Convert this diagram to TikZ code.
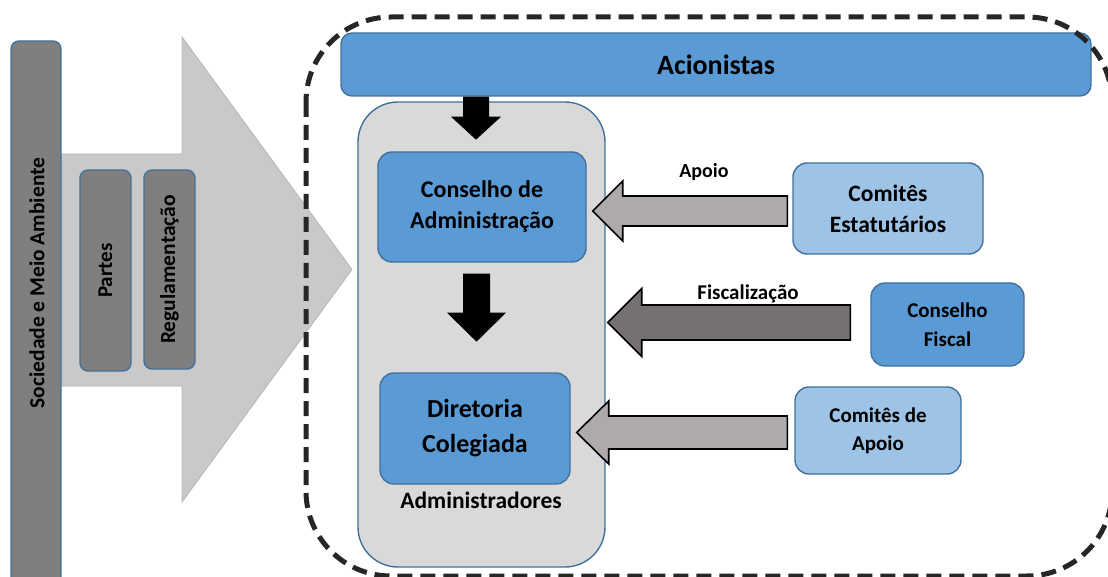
\documentclass[tikz,border=0pt]{standalone}
\usepackage{fontspec}
\setmainfont{Carlito}
\usetikzlibrary{calc}
\definecolor{bluefill}{HTML}{5B9BD5}
\definecolor{blueline}{HTML}{41719C}
\definecolor{lightblue}{HTML}{9DC3E6}
\definecolor{bargrey}{HTML}{7F7F7F}
\definecolor{bigarrow}{HTML}{C9C9C9}
\definecolor{bigarrowline}{HTML}{B5B5B5}
\definecolor{contgrey}{HTML}{D9D9D9}
\definecolor{argrey}{HTML}{AEAAAA}
\definecolor{ardark}{HTML}{757171}
\definecolor{dashcol}{HTML}{262626}
\begin{document}
\begin{tikzpicture}[x=1pt,y=-1pt,
  box/.style={draw=blueline, line width=1.4pt, rounded corners=#1, inner sep=0pt, align=center, font=\bfseries},
  box/.default=14pt,
  greybox/.style={box=8pt, fill=bargrey},
  bluebox/.style={box=14pt, fill=bluefill},
  lbox/.style={box=14pt, fill=lightblue},
  blockarr/.style={draw=black, line width=1.6pt, line join=miter},
  lab/.style={font=\bfseries, inner sep=0pt}
]
\useasboundingbox (0,0) rectangle (1108,577);
\clip (0,0) rectangle (1108,577);

% big background arrow
\fill[bigarrow, draw=bigarrowline, line width=0.8pt] (50,154) -- (182,154) -- (182,37) -- (352,269.5) -- (182,502) -- (182,386) -- (50,386) -- cycle;

% left bar
\node[greybox, minimum width=50pt, minimum height=549pt] (socbar) at (36,315.5) {};
\node[lab, rotate=90, font=\bfseries\fontsize{21.5}{24}\selectfont] (soctext) at (37,283) {Sociedade e Meio Ambiente};

\node[greybox, rotate=90, minimum width=201pt, minimum height=51pt, font=\bfseries\fontsize{21}{24}\selectfont] (partes) at (105.5,270.5) {Partes};
\node[greybox, rotate=90, minimum width=199pt, minimum height=51pt, font=\bfseries\fontsize{21.5}{24}\selectfont] (reg) at (169.5,269.5) {Regulamentação};

% container
\node[box=40pt, fill=contgrey, minimum width=247pt, minimum height=465pt] (adm) at (481.5,334.5) {};

% shareholders
\node[box=11pt, fill=bluefill, minimum width=750pt, minimum height=63pt, font=\bfseries\fontsize{28}{32}\selectfont] (acio) at (716,64.5) {Acionistas};

% inner boxes
\node[bluebox, minimum width=208pt, minimum height=110pt, font=\bfseries\fontsize{24}{31}\selectfont] (ca) at (482,207) {Conselho de\\Administração};
\node[bluebox, minimum width=190pt, minimum height=111pt, font=\bfseries\fontsize{26}{35}\selectfont] (dc) at (475,428.5) {Diretoria\\Colegiada};
\node[lab, anchor=base, font=\bfseries\fontsize{23.5}{28}\selectfont] (admlab) at (481,508) {Administradores};

% right boxes
\node[lbox, minimum width=190pt, minimum height=91pt, font=\bfseries\fontsize{23.5}{31}\selectfont] (cest) at (888,208.5) {Comitês\\Estatutários};
\node[bluebox, minimum width=153pt, minimum height=83pt, font=\bfseries\fontsize{21}{29}\selectfont] (cf) at (947.5,324.5) {Conselho\\Fiscal};
\node[lbox, minimum width=166pt, minimum height=87pt, font=\bfseries\fontsize{21}{28}\selectfont] (cap) at (878,430.5) {Comitês de\\Apoio};

% black arrows
\coordinate (k1) at ($(acio.south -| ca.north)+(-6,0)$);
\fill[black] ($(k1)+(-13,0)$) -- ($(k1)+(13,0)$) -- ($(k1)+(13,20)$) -- ($(k1)+(25,20)$) -- ($(k1)+(0,43)$) -- ($(k1)+(-25,20)$) -- ($(k1)+(-13,20)$) -- cycle;
\coordinate (k2) at ($(ca.south)+(-5.5,11)$);
\fill[black] ($(k2)+(-13.5,0)$) -- ($(k2)+(13.5,0)$) -- ($(k2)+(13.5,39)$) -- ($(k2)+(29.5,39)$) -- ($(k2)+(0,68)$) -- ($(k2)+(-29.5,39)$) -- ($(k2)+(-13.5,39)$) -- cycle;

% block arrows
\coordinate (t1) at ($(ca.east)+(6,4)$);
\draw[blockarr, fill=argrey] (t1) -- ($(t1)+(30,-30)$) -- ($(t1)+(30,-15)$) -- ($(t1 -| cest.west)+(-5,-15)$) -- ($(t1 -| cest.west)+(-5,15)$) -- ($(t1)+(30,15)$) -- ($(t1)+(30,30)$) -- cycle;
\node[lab, anchor=base, font=\bfseries\fontsize{20}{24}\selectfont] (apoiolab) at (704,178) {Apoio};

\coordinate (t2) at ($(adm.east |- cf.west)+(2,-2)$);
\draw[blockarr, fill=ardark] (t2) -- ($(t2)+(34,-34)$) -- ($(t2)+(34,-17.5)$) -- ($(t2 -| cf.west)+(-20,-17.5)$) -- ($(t2 -| cf.west)+(-20,17.5)$) -- ($(t2)+(34,17.5)$) -- ($(t2)+(34,34)$) -- cycle;
\node[lab, anchor=base, font=\bfseries\fontsize{21}{24}\selectfont] (fisclab) at (748,300) {Fiscalização};

\coordinate (t3) at ($(dc.east)+(6,4)$);
\draw[blockarr, fill=argrey] (t3) -- ($(t3)+(32,-31.5)$) -- ($(t3)+(32,-16.5)$) -- ($(t3 -| cap.west)+(-7,-16.5)$) -- ($(t3 -| cap.west)+(-7,16.5)$) -- ($(t3)+(32,16.5)$) -- ($(t3)+(32,31.5)$) -- cycle;

% dashed boundary
\draw[dashcol, line width=5pt, dash pattern=on 15pt off 8pt, rounded corners=85pt] (306,17) rectangle (1112,576);
\end{tikzpicture}
\end{document}
